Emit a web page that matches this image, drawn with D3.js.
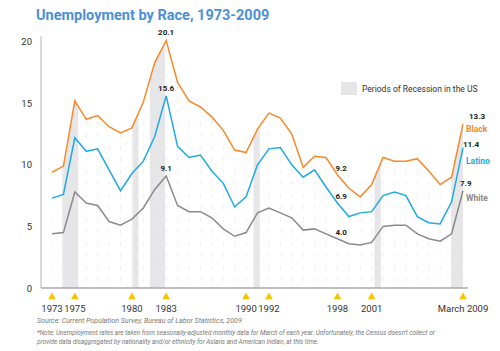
<!DOCTYPE html>
<html>
<head>
<meta charset="utf-8">
<script src="https://cdn.jsdelivr.net/npm/d3@7"></script>
<style>
  body { margin: 0; background: #fff; }
  text { font-family: Roboto, "DejaVu Sans", sans-serif; }
</style>
</head>
<body>
<div id="chart"></div>
<script>
// data (March of each year)
var years = d3.range(1973, 2010);
var black = [9.4, 9.9, 15.2, 13.7, 14.0, 13.1, 12.6, 13.0, 15.1, 18.3, 20.1, 16.7, 15.2, 14.7, 13.9, 12.8, 11.2, 11.0,
             12.9, 14.2, 13.8, 12.5, 9.8, 10.7, 10.6, 9.2, 8.1, 7.4, 8.4, 10.6, 10.3, 10.3, 10.5, 9.5, 8.4, 9.0, 13.3];
var latino = [7.3, 7.6, 12.2, 11.1, 11.3, 9.6, 7.9, 9.3, 10.3, 12.3, 15.6, 11.5, 10.6, 10.8, 9.5, 8.5, 6.6, 7.4,
              10.0, 11.3, 11.4, 10.0, 9.0, 9.6, 8.2, 6.9, 5.8, 6.1, 6.2, 7.5, 7.8, 7.5, 5.8, 5.3, 5.2, 7.0, 11.4];
var white = [4.4, 4.5, 7.8, 6.9, 6.7, 5.4, 5.1, 5.6, 6.5, 8.0, 9.1, 6.7, 6.2, 6.2, 5.7, 4.8, 4.2, 4.5,
             6.1, 6.5, 6.1, 5.7, 4.7, 4.8, 4.4, 4.0, 3.6, 3.5, 3.7, 5.0, 5.1, 5.1, 4.4, 4.0, 3.8, 4.4, 7.9];
var recessions = [[1973.9, 1975.3], [1980.05, 1980.58], [1981.58, 1982.9], [1990.65, 1991.2], [2001.25, 2001.8], [2007.95, 2009.1]];
var markedYears = [1973, 1975, 1980, 1983, 1990, 1992, 1998, 2001, 2009];
var yTicks = [0, 5, 10, 15, 20];
// callout values: [series, year]
var callouts = [["black", 1983], ["latino", 1983], ["white", 1983], ["black", 1998], ["latino", 1998], ["white", 1998]];

var w = 500, h = 351;
var colors = { black: "#f7892b", latino: "#1eaae2", white: "#8a8a8a" };
var series = { black: black, latino: latino, white: white };

var svg = d3.select("#chart").append("svg")
    .attr("width", w)
    .attr("height", h);

var x = d3.scaleLinear().domain([1973, 2009]).range([52, 463]);
var y = d3.scaleLinear().domain([0, 20]).range([288, 41.7]);

// title
svg.append("text")
    .attr("x", 36).attr("y", 20)
    .style("font-size", "14.5px")
    .style("font-weight", "bold")
    .style("fill", "#4a8fd8")
    .text("Unemployment by Race, 1973-2009");

// clip to the area under the black line
var area = d3.area()
    .x(function (d, i) { return x(years[i]); })
    .y0(y(0))
    .y1(function (d) { return y(d); });

svg.append("clipPath").attr("id", "under")
    .append("path")
    .attr("d", area(black));

var under = svg.append("g").attr("clip-path", "url(#under)");

under.selectAll("rect.rec")
    .data(recessions)
    .enter()
    .append("rect")
    .attr("class", "rec")
    .attr("x", function (d) { return x(d[0]); })
    .attr("width", function (d) { return x(d[1]) - x(d[0]); })
    .attr("y", y(20.5))
    .attr("height", y(0) - y(20.5))
    .style("fill", "#e6e6e9");

under.selectAll("line.grid")
    .data(years)
    .enter()
    .append("line")
    .attr("class", "grid")
    .attr("x1", function (d) { return x(d); })
    .attr("x2", function (d) { return x(d); })
    .attr("y1", y(0) - 6)
    .attr("y2", y(20.5))
    .style("stroke", "#ececec")
    .style("stroke-width", 0.8)
    .style("stroke-dasharray", "5,7");

// axes lines
svg.append("line")
    .attr("x1", 41).attr("x2", 41)
    .attr("y1", 36.5).attr("y2", y(0))
    .style("stroke", "#b5b5b5").style("stroke-width", 1);
svg.append("line")
    .attr("x1", 41).attr("x2", 468)
    .attr("y1", y(0)).attr("y2", y(0))
    .style("stroke", "#a8a8a8").style("stroke-width", 1.6);

svg.selectAll("text.ytick")
    .data(yTicks)
    .enter()
    .append("text")
    .attr("class", "ytick")
    .attr("x", 32)
    .attr("y", function (d) { return y(d) + 3.5; })
    .attr("text-anchor", "end")
    .style("font-size", "9.5px")
    .style("fill", "#333")
    .text(function (d) { return d; });

// lines
var line = d3.line()
    .x(function (d, i) { return x(years[i]); })
    .y(function (d) { return y(d); });

["white", "latino", "black"].forEach(function (k) {
    svg.append("path")
        .attr("d", line(series[k]))
        .style("fill", "none")
        .style("stroke", colors[k])
        .style("stroke-width", 1.5)
        .style("stroke-linejoin", "miter");
});

// year markers
var tri = d3.symbol().type(d3.symbolTriangle).size(26);
svg.selectAll("path.mark")
    .data(markedYears)
    .enter()
    .append("path")
    .attr("class", "mark")
    .attr("d", tri)
    .attr("transform", function (d) { return "translate(" + x(d) + ",297)"; })
    .style("fill", "#f8c300");

svg.selectAll("text.year")
    .data(markedYears)
    .enter()
    .append("text")
    .attr("class", "year")
    .attr("x", function (d) { return x(d); })
    .attr("y", 312)
    .attr("text-anchor", "middle")
    .style("font-size", "9.5px")
    .style("fill", "#333")
    .text(function (d) { return d === 2009 ? "March 2009" : d; });

// callouts
svg.selectAll("text.peak")
    .data(callouts.filter(function (d) { return d[1] === 1983; }))
    .enter()
    .append("text")
    .attr("class", "peak")
    .attr("x", function (d) { return x(d[1]); })
    .attr("y", function (d) { return y(series[d[0]][years.indexOf(d[1])]) - 5; })
    .attr("text-anchor", "middle")
    .style("font-size", "8px").style("font-weight", "bold").style("fill", "#222")
    .text(function (d) { return series[d[0]][years.indexOf(d[1])].toFixed(1); });

svg.selectAll("text.low")
    .data(callouts.filter(function (d) { return d[1] === 1998; }))
    .enter()
    .append("text")
    .attr("class", "low")
    .attr("x", function (d) { return x(d[1]) - 2; })
    .attr("y", function (d) { return y(series[d[0]][years.indexOf(d[1])]) - 4; })
    .style("font-size", "8px").style("font-weight", "bold").style("fill", "#222")
    .text(function (d) { return series[d[0]][years.indexOf(d[1])].toFixed(1); });

// end values and series names
var last = years.length - 1;
var ends = [
    { k: "black", name: "Black", dx: 6, dy: -5, ny: 132 },
    { k: "latino", name: "Latino", dx: 0, dy: -1, ny: 164 },
    { k: "white", name: "White", dx: -3, dy: -5, ny: 201 }
];
svg.selectAll("text.endv")
    .data(ends)
    .enter()
    .append("text")
    .attr("class", "endv")
    .attr("x", function (d) { return x(years[last]) + d.dx; })
    .attr("y", function (d) { return y(series[d.k][last]) + d.dy; })
    .style("font-size", "8px").style("font-weight", "bold").style("fill", "#222")
    .text(function (d) { return series[d.k][last].toFixed(1); });

svg.selectAll("text.name")
    .data(ends)
    .enter()
    .append("text")
    .attr("class", "name")
    .attr("x", 466)
    .attr("y", function (d) { return d.ny; })
    .style("font-size", "8.5px").style("font-weight", "bold")
    .style("fill", function (d) { return colors[d.k]; })
    .text(function (d) { return d.name; });

// legend
svg.append("rect")
    .attr("x", 341).attr("y", 82)
    .attr("width", 16).attr("height", 13)
    .style("fill", "#e6e6e9");
svg.append("text")
    .attr("x", 362).attr("y", 92)
    .style("font-size", "8.5px")
    .style("fill", "#333")
    .text("Periods of Recession in the US");

// notes
svg.append("text")
    .attr("x", 37).attr("y", 323)
    .style("font-size", "7.1px").style("font-style", "italic").style("fill", "#777")
    .text("Source: Current Population Survey, Bureau of Labor Statistics, 2009");
svg.append("text")
    .attr("x", 37).attr("y", 335)
    .style("font-size", "6.4px").style("font-style", "italic").style("fill", "#777")
    .text("*Note: Unemployment rates are taken from seasonally-adjusted monthly data for March of each year. Unfortunately, the Census doesn't collect or");
svg.append("text")
    .attr("x", 37).attr("y", 343.5)
    .style("font-size", "6.4px").style("font-style", "italic").style("fill", "#777")
    .text("provide data disaggregated by nationality and/or ethnicity for Asians and American Indian, at this time.");
</script>
</body>
</html>
